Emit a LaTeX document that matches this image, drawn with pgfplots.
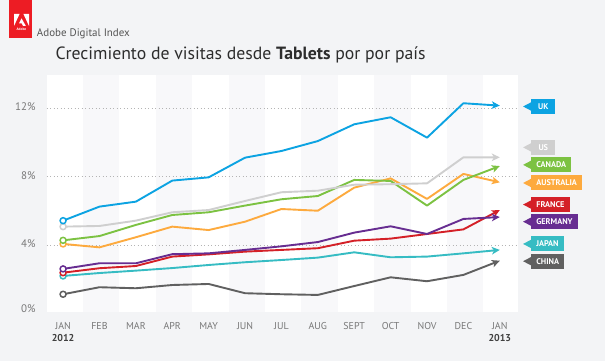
\documentclass[border=0pt]{standalone}
\usepackage{pgfplots}
\pgfplotsset{compat=1.18}
\usetikzlibrary{arrows.meta}
\usepackage{fontspec}
\setmainfont{PT Sans}
\setsansfont{PT Sans}
\definecolor{bgc}{RGB}{243,244,246}
\definecolor{bandc}{RGB}{248,248,250}
\definecolor{adobered}{RGB}{237,28,36}
\definecolor{ukc}{RGB}{12,163,226}
\definecolor{usc}{RGB}{207,207,207}
\definecolor{cac}{RGB}{124,194,66}
\definecolor{auc}{RGB}{253,170,62}
\definecolor{frc}{RGB}{212,32,39}
\definecolor{dec}{RGB}{103,45,145}
\definecolor{jpc}{RGB}{54,188,195}
\definecolor{cnc}{RGB}{96,96,96}
\definecolor{tickc}{RGB}{120,120,120}
\definecolor{gridc}{RGB}{180,180,180}
\newcommand{\tagfont}{\fontsize{8.3}{9}\selectfont\bfseries}
\newcommand{\ctag}[3]{%
\fill[#2] (axis cs:12.64,#1) -- ([yshift=4.6bp]axis cs:12.88,#1) -- ([yshift=-4.6bp]axis cs:12.88,#1) -- cycle;
\node[fill=#2, text=white, font=\tagfont, anchor=west, minimum height=15bp, minimum width=24bp, inner xsep=5bp, inner ysep=0pt] at (axis cs:12.86,#1) {#3};}
\begin{document}
\begin{tikzpicture}[x=1bp,y=1bp]
\fill[bgc] (0,0) rectangle (605,361);
% logo
\fill[adobered] (9,323.3) rectangle (31.7,361);
\begin{scope}[shift={(14bp,335bp)}, x=15bp, y=12bp]
\fill[white] (0,0) -- (0,1) -- (0.37,1) -- cycle;
\fill[white] (0.63,1) -- (1,1) -- (1,0) -- cycle;
\fill[white] (0.5,0.64) -- (0.79,0) -- (0.6,0) -- (0.52,0.21) -- (0.33,0.21) -- cycle;
\end{scope}
\node[white, font=\fontsize{3.6}{4}\selectfont\bfseries, inner sep=0] at (21.4,331.4) {Adobe};
\node[anchor=base west, inner sep=0, text={rgb,255:red,85;green,85;blue,85}, font=\fontsize{11}{13}\selectfont] at (36.8,324.3) {Adobe Digital Index};
\node[anchor=base west, inner sep=0, text={rgb,255:red,45;green,45;blue,45}, font=\fontsize{17.8}{20}\selectfont] at (55.5,301.5) {Crecimiento de visitas desde \textbf{Tablets} por por país};
\begin{axis}[at={(46.7bp,49.3bp)}, anchor=south west, scale only axis,
  width=471.3bp, height=236.7bp,
  xmin=-0.45, xmax=12.5, ymin=0.12, ymax=13.95,
  clip=false, axis line style={draw=none}, major tick length=0,
  axis background/.style={fill=white},
  xtick={0,...,12},
  xticklabels={{JAN\\\textbf{\textcolor{darkgray}{2012}}},FEB,MAR,APR,MAY,JUN,JUL,AUG,SEPT,OCT,NOV,DEC,{JAN\\\textbf{\textcolor{darkgray}{2013}}}},
  xticklabel style={align=center, anchor=north, inner sep=0pt, yshift=-11bp, text=tickc, font=\fontsize{10}{11.6}\selectfont},
  ytick={4,8,12},
  yticklabels={4\%,8\%,12\%},
  extra y ticks={0.12}, extra y tick labels={0\%},
  extra y tick style={yticklabel style={yshift=2bp}},
  yticklabel style={anchor=east, inner sep=0pt, xshift=-11bp, yshift=1.5bp, text=tickc, font=\fontsize{11}{13}\selectfont},
  every axis plot/.append style={line width=1.9bp, line join=round, -{Stealth[length=8bp,width=7.5bp,inset=2.2bp]}, mark=*, mark indices={1}, mark size=3bp, mark options={solid, fill=white, line width=1.5bp, arrows=-}},
]
\fill[bandc] (axis cs:0.55,0.12) rectangle (axis cs:1.55,13.95);
\fill[bandc] (axis cs:2.55,0.12) rectangle (axis cs:3.55,13.95);
\fill[bandc] (axis cs:4.55,0.12) rectangle (axis cs:5.55,13.95);
\fill[bandc] (axis cs:6.55,0.12) rectangle (axis cs:7.55,13.95);
\fill[bandc] (axis cs:8.55,0.12) rectangle (axis cs:9.55,13.95);
\fill[bandc] (axis cs:10.55,0.12) rectangle (axis cs:11.55,13.95);
\draw[gridc, line width=0.8bp, dash pattern=on 0.9bp off 2.6bp] (axis cs:-0.45,4) -- (axis cs:12.5,4);
\draw[gridc, line width=0.8bp, dash pattern=on 0.9bp off 2.6bp] (axis cs:-0.45,8) -- (axis cs:12.5,8);
\draw[gridc, line width=0.8bp, dash pattern=on 0.9bp off 2.6bp] (axis cs:-0.45,12) -- (axis cs:12.5,12);
\addplot[cnc] coordinates {(0,1.14)(1,1.55)(2,1.49)(3,1.68)(4,1.74)(5,1.20)(6,1.14)(7,1.10)(8,1.62)(9,2.13)(10,1.90)(11,2.27)(12,3.10)};
\addplot[jpc] coordinates {(0,2.21)(1,2.38)(2,2.52)(3,2.67)(4,2.85)(5,3.01)(6,3.14)(7,3.28)(8,3.59)(9,3.30)(10,3.34)(11,3.53)(12,3.73)};
\addplot[frc] coordinates {(0,2.40)(1,2.66)(2,2.79)(3,3.34)(4,3.47)(5,3.63)(6,3.73)(7,3.83)(8,4.27)(9,4.39)(10,4.66)(11,4.93)(12,6.06)};
\addplot[dec] coordinates {(0,2.62)(1,2.95)(2,2.95)(3,3.48)(4,3.53)(5,3.73)(6,3.94)(7,4.19)(8,4.74)(9,5.11)(10,4.66)(11,5.54)(12,5.65)};
\addplot[auc] coordinates {(0,4.08)(1,3.88)(2,4.47)(3,5.09)(4,4.89)(5,5.38)(6,6.12)(7,6.02)(8,7.37)(9,7.91)(10,6.71)(11,8.17)(12,7.68)};
\addplot[cac] coordinates {(0,4.29)(1,4.54)(2,5.19)(3,5.77)(4,5.93)(5,6.32)(6,6.69)(7,6.88)(8,7.82)(9,7.76)(10,6.32)(11,7.82)(12,8.63)};
\addplot[usc] coordinates {(0,5.09)(1,5.13)(2,5.44)(3,5.93)(4,6.06)(5,6.59)(6,7.10)(7,7.19)(8,7.54)(9,7.57)(10,7.62)(11,9.14)(12,9.14)};
\addplot[ukc] coordinates {(0,5.44)(1,6.26)(2,6.55)(3,7.78)(4,7.97)(5,9.12)(6,9.51)(7,10.09)(8,11.07)(9,11.48)(10,10.29)(11,12.30)(12,12.16)};
\ctag{12.11}{ukc}{UK}
\ctag{9.72}{usc}{US}
\ctag{8.70}{cac}{CANADA}
\ctag{7.64}{auc}{AUSTRALIA}
\ctag{6.38}{frc}{FRANCE}
\ctag{5.38}{dec}{GERMANY}
\ctag{4.08}{jpc}{JAPAN}
\ctag{3.07}{cnc}{CHINA}
\end{axis}
\pgfresetboundingbox
\path (0,0) rectangle (605,361);
\end{tikzpicture}
\end{document}
